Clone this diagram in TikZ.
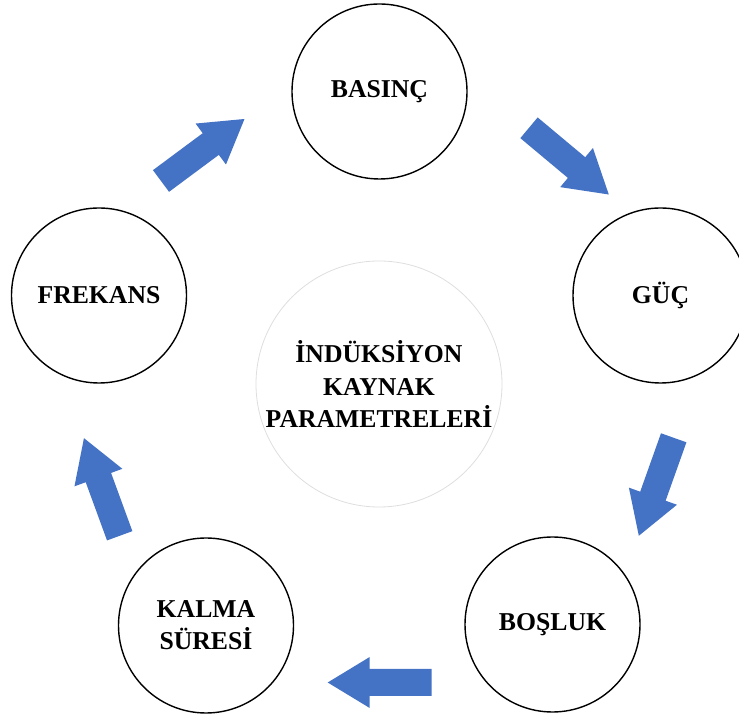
\documentclass[tikz,border=0pt]{standalone}
\usepackage{fontspec}
\setmainfont{Liberation Serif}
\usepackage{tikz}
\definecolor{arrowblue}{RGB}{68,114,196}
\definecolor{ringgray}{RGB}{222,222,222}
\tikzset{param/.style={circle,draw=black,line width=1.4bp,minimum size=175bp,inner sep=0pt,align=center,
    font=\bfseries\fontsize{25.8}{32}\selectfont}}
% block arrow: #1 = tail point, #2 = direction
\newcommand{\blockarrow}[2]{%
  \fill[arrowblue,shift={(#1)},rotate=#2] (0,-13.5) -- (62,-13.5) -- (62,-25.5) -- (104,0)
    -- (62,25.5) -- (62,13.5) -- (0,13.5) -- cycle;}

\begin{document}
\begin{tikzpicture}[line cap=round,line join=round,x=1bp,y=1bp]
      \useasboundingbox (0,0) rectangle (739,720);
      \node[circle,draw=ringgray,line width=0.8bp,minimum size=246bp,inner sep=0pt,align=center,
        font=\bfseries\fontsize{25.8}{33}\selectfont] (merkez) at (379,336) {İNDÜKSİYON\\KAYNAK\\PARAMETRELERİ};
      \node[param] (basinc) at (379.5,628.5) {BASINÇ};
      \node[param] (guc) at (660.5,424.5) {GÜÇ};
      \node[param] (bosluk) at (552.5,95.5) {BOŞLUK};
      \node[param] (kalma) at (206,94.5) {KALMA\\SÜRESİ};
      \node[param] (frekans) at (99,424.5) {FREKANS};
      \coordinate (a1) at (161,539);
      \coordinate (a2) at (529,592.2);
      \coordinate (a3) at (673.7,282.2);
      \coordinate (a4) at (431.7,37.5);
      \coordinate (a5) at (119.7,184.2);
      \foreach \p/\w in {a1/36.6,a2/-39.9,a3/-109.6,a4/180,a5/110.1}
      \blockarrow{\p}{\w};
    \end{tikzpicture}
\end{document}
